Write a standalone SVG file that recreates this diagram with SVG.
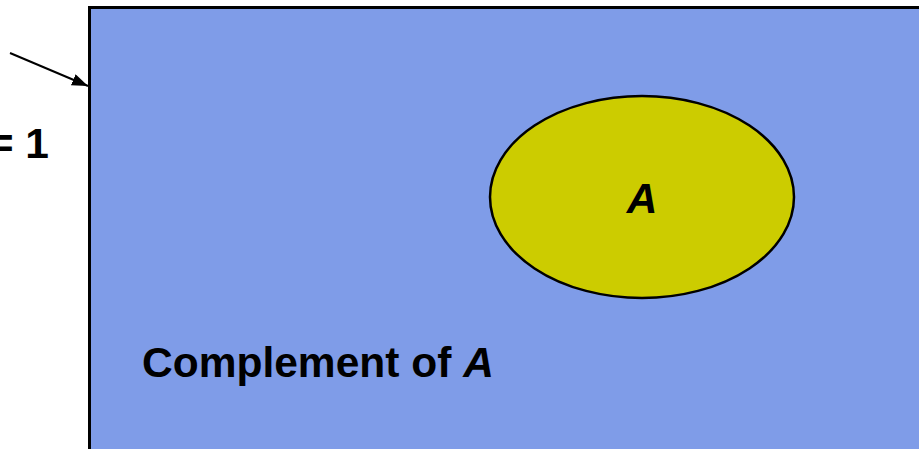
<svg xmlns="http://www.w3.org/2000/svg" width="919" height="449" viewBox="0 0 919 449">
  <style>
    .lbl { font-family: "Liberation Sans", Arial, sans-serif; font-weight: bold; font-size: 42.5px; fill: #000; }
    .it { font-style: italic; }
  </style>
  <defs>
    <marker id="ah" viewBox="0 0 16 12" refX="16" refY="6" markerWidth="16" markerHeight="12" markerUnits="userSpaceOnUse" orient="auto">
      <path d="M0,0 L16,6 L0,12 z" fill="#000"/>
    </marker>
  </defs>
  <rect width="919" height="449" fill="#fff"/>
  <g id="universe">
    <rect x="89.5" y="7.5" width="900" height="500" fill="#7F9CE8" stroke="#000" stroke-width="3"/>
    <text class="lbl" x="142" y="377">Complement of <tspan class="it">A</tspan></text>
  </g>
  <g id="setA">
    <ellipse cx="642" cy="197" rx="152" ry="101" fill="#CCCC00" stroke="#000" stroke-width="2.5"/>
    <text class="lbl it" x="642" y="213" text-anchor="middle">A</text>
  </g>
  <g id="label">
    <text class="lbl" x="49" y="158" text-anchor="end">= 1</text>
  </g>
  <g id="connectors">
    <line x1="10" y1="53" x2="88" y2="86" stroke="#000" stroke-width="2" marker-end="url(#ah)"/>
  </g>
</svg>
